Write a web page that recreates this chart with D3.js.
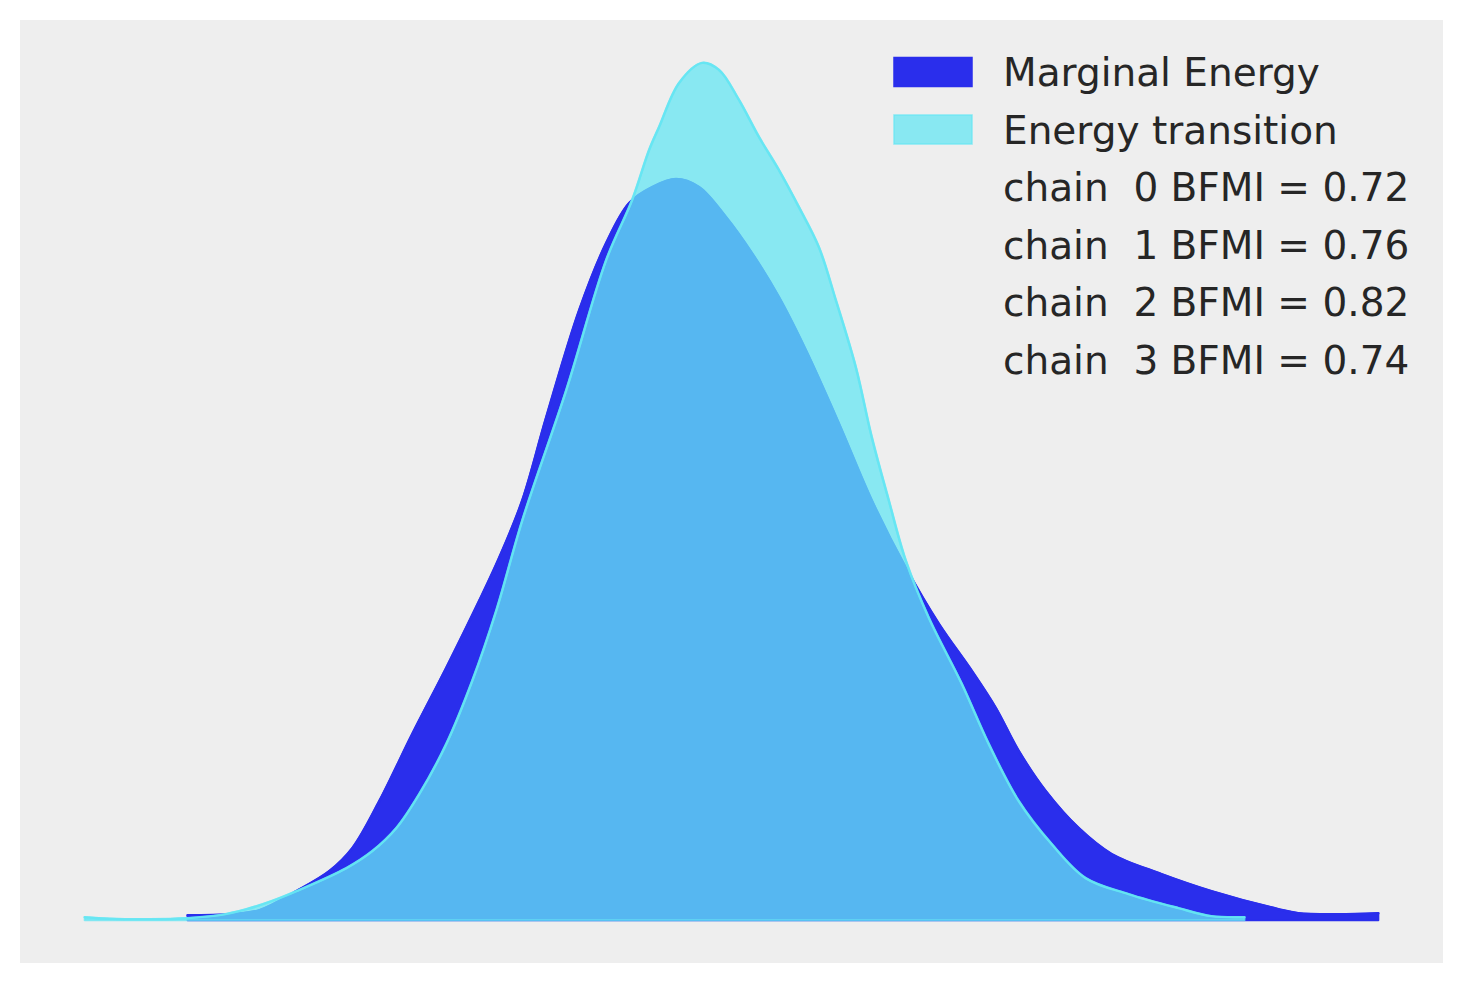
<!DOCTYPE html>
<html>
<head>
<meta charset="utf-8">
<script src="https://cdn.jsdelivr.net/npm/d3@7"></script>
<style>
  body { margin: 0; background: #ffffff; }
  svg { display: block; }
</style>
</head>
<body>
<div id="chart"></div>
<script>
// centered energy values (x) and kde heights (arbitrary density units)
const marginalX = [-4.92, -4.50, -4.20, -3.83, -3.50, -3.27, -3.00, -2.67, -2.33, -2.00, -1.80, -1.57, -1.33, -1.00, -0.73, -0.50, -0.27, -0.03, 0.20, 0.47, 0.73, 1.00, 1.27, 1.60, 1.93, 2.27, 2.60, 2.93, 3.17, 3.40, 3.67, 4.00, 4.33, 4.83, 5.33, 6.00, 6.20, 6.60, 7.00];
const marginalY = [0.5, 0.6, 1.0, 2.9, 4.9, 7.2, 11.9, 18.6, 25.2, 31.9, 36.2, 41.9, 50.2, 60.9, 67.6, 71.6, 73.2, 74.0, 73.2, 70.2, 66.6, 62.2, 56.9, 49.6, 41.9, 35.2, 29.6, 24.9, 21.2, 16.9, 12.9, 9.2, 6.6, 4.6, 2.9, 1.1, 0.7, 0.6, 0.7];

const transitionX = [-5.95, -5.70, -5.30, -4.93, -4.60, -4.33, -4.08, -3.83, -3.33, -3.07, -2.83, -2.60, -2.33, -2.07, -1.83, -1.57, -1.13, -0.73, -0.47, -0.30, -0.20, 0.00, 0.23, 0.40, 0.60, 0.80, 1.00, 1.20, 1.40, 1.57, 1.77, 1.93, 2.10, 2.27, 2.50, 2.83, 3.10, 3.40, 3.73, 4.07, 4.50, 5.00, 5.33, 5.66];
const transitionY = [0.3, 0.15, 0.1, 0.2, 0.5, 1.1, 1.9, 2.9, 5.2, 6.9, 9.2, 12.6, 17.6, 23.9, 30.9, 39.9, 52.9, 65.9, 71.9, 76.9, 79.2, 83.6, 85.6, 84.9, 81.9, 78.2, 74.9, 71.2, 67.2, 61.9, 55.2, 48.2, 41.9, 35.9, 30.2, 23.6, 17.6, 11.9, 7.6, 4.2, 2.6, 1.2, 0.4, 0.3];

const legendLabels = ["Marginal Energy", "Energy transition"];
const chains = [0, 1, 2, 3];
const bfmi = [0.72, 0.76, 0.82, 0.74];

const W = 1463, H = 983;
const panel = { left: 20, top: 20, right: 1443, bottom: 963 };

const svg = d3.select("#chart").append("svg")
  .attr("width", W)
  .attr("height", H);

svg.append("rect")
  .attr("x", panel.left)
  .attr("y", panel.top)
  .attr("width", panel.right - panel.left)
  .attr("height", panel.bottom - panel.top)
  .attr("fill", "#eeeeee");

const xMin = d3.min(transitionX.concat(marginalX));
const xMax = d3.max(transitionX.concat(marginalX));
const yMax = d3.max(transitionY.concat(marginalY));
const xPad = (xMax - xMin) * 0.05;

const x = d3.scaleLinear()
  .domain([xMin - xPad, xMax + xPad])
  .range([panel.left, panel.right]);

const y = d3.scaleLinear()
  .domain([-0.05 * yMax, 1.05 * yMax])
  .range([panel.bottom, panel.top]);

const series = [
  { name: legendLabels[0], xs: marginalX, ys: marginalY, color: "#2a2eec", alpha: 1 },
  { name: legendLabels[1], xs: transitionX, ys: transitionY, color: "#65e5f3", alpha: 0.75 }
];

const area = d3.area()
  .x(d => x(d[0]))
  .y0(y(0))
  .y1(d => y(d[1]))
  .curve(d3.curveCatmullRom.alpha(0.5));

const line = d3.line()
  .x(d => x(d[0]))
  .y(d => y(d[1]))
  .curve(d3.curveCatmullRom.alpha(0.5));

const plot = svg.append("g");

series.forEach(s => {
  const pts = s.xs.map((v, i) => [v, s.ys[i]]);
  plot.append("path")
    .datum(pts)
    .attr("d", area)
    .attr("fill", s.color)
    .attr("fill-opacity", s.alpha)
    .attr("stroke", s.color)
    .attr("stroke-opacity", s.alpha)
    .attr("stroke-width", 2)
    .attr("stroke-linejoin", "round");
  plot.append("path")
    .datum(pts)
    .attr("d", line)
    .attr("fill", "none")
    .attr("stroke", s.color)
    .attr("stroke-opacity", s.alpha === 1 ? 1 : 0.9)
    .attr("stroke-width", 2.5)
    .attr("stroke-linecap", "round");
});

// legend
const fontSize = 39;
const rowH = 57.5;
const legend = svg.append("g")
  .attr("font-family", "'DejaVu Sans', sans-serif")
  .attr("font-size", fontSize)
  .attr("fill", "#262626");

const rows = legendLabels.concat(chains.map((c, i) => "chain  " + c + " BFMI = " + bfmi[i].toFixed(2)));

rows.forEach((txt, i) => {
  const cy = 72 + i * rowH;
  if (i < series.length) {
    legend.append("rect")
      .attr("x", 894)
      .attr("y", cy - 14.5)
      .attr("width", 78)
      .attr("height", 29)
      .attr("fill", series[i].color)
      .attr("fill-opacity", series[i].alpha)
      .attr("stroke", series[i].color)
      .attr("stroke-opacity", series[i].alpha)
      .attr("stroke-width", 1.5);
  }
  legend.append("text")
    .attr("x", 1003)
    .attr("y", cy + 14)
    .style("white-space", "pre")
    .text(txt);
});
</script>
</body>
</html>
